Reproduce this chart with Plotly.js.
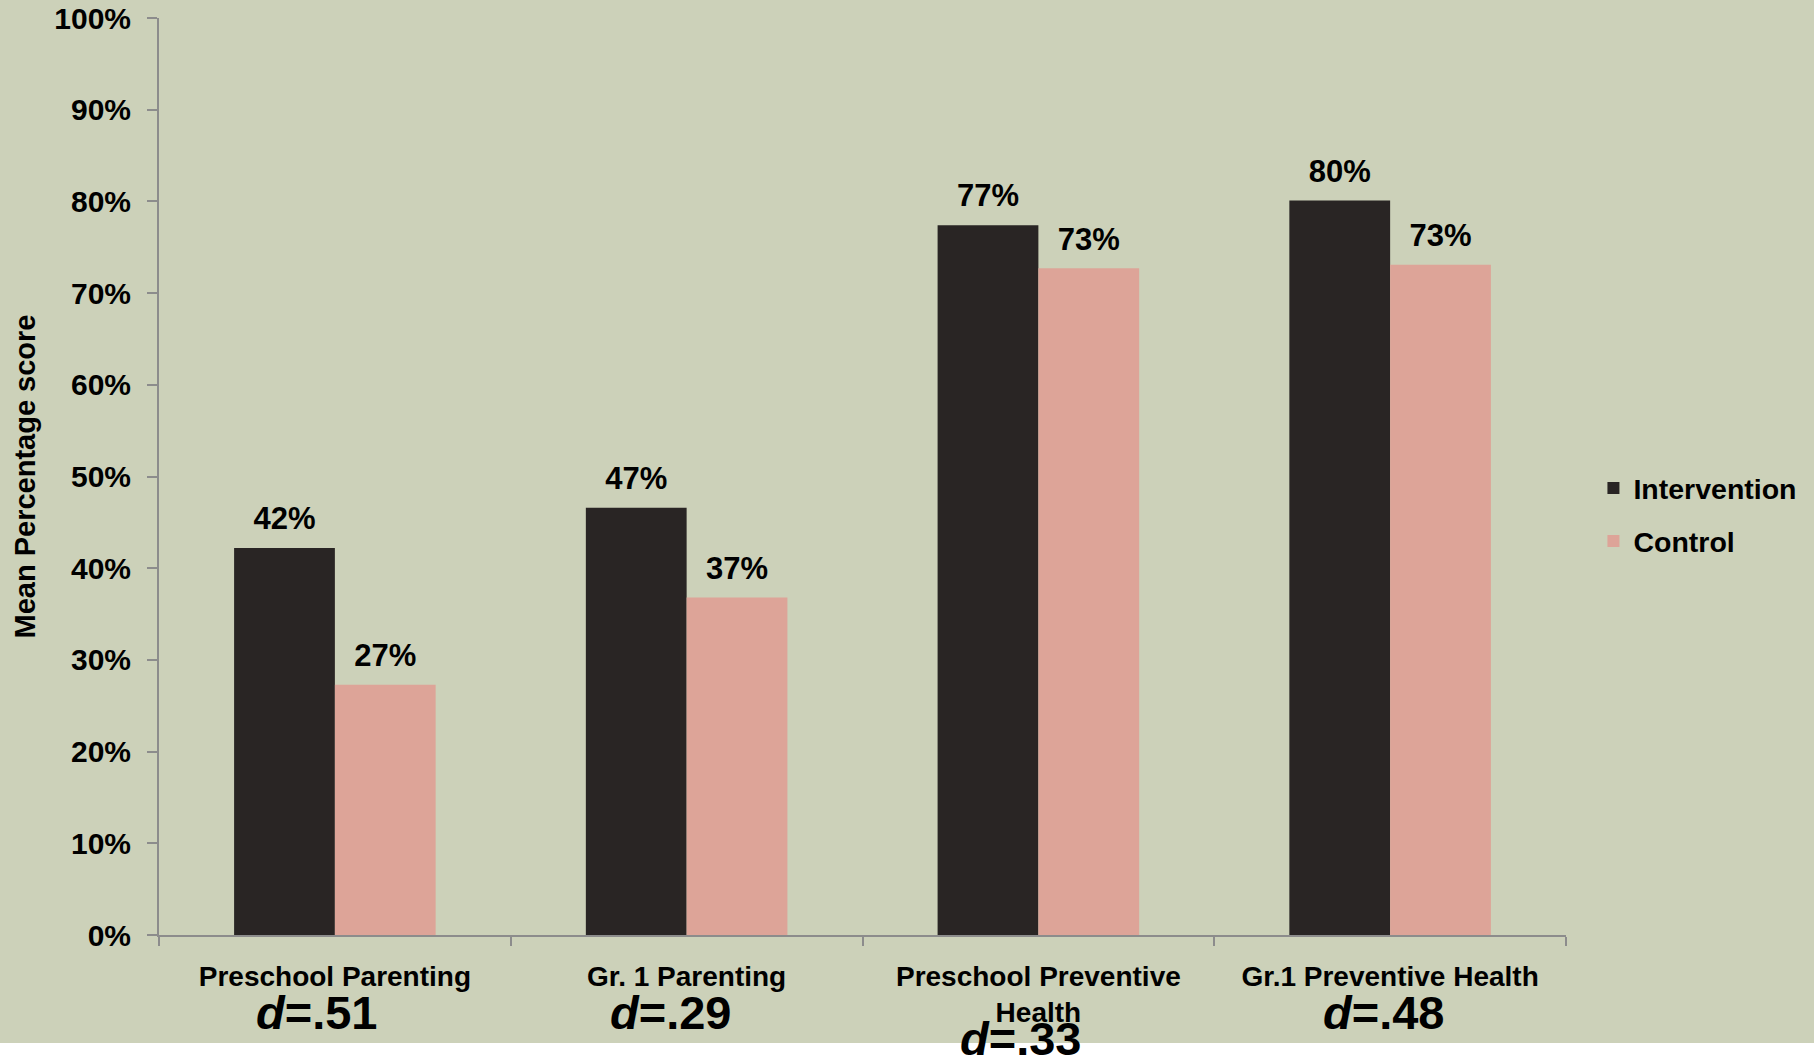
<!DOCTYPE html>
<html>
<head>
<meta charset="utf-8">
<script src="https://cdn.plot.ly/plotly-3.0.1.min.js"></script>
<style>
  html, body { margin: 0; padding: 0; background: #ffffff; }
  #chart { width: 1814px; height: 1057px; }
</style>
</head>
<body>
<div id="chart"></div>
<script>
// ---- Data ----
const categories = ["Preschool Parenting", "Gr. 1 Parenting", "Preschool Preventive<br>Health", "Gr.1 Preventive Health"];
const interventionValues = [42.2, 46.6, 77.4, 80.1];
const controlValues = [27.3, 36.8, 72.7, 73.1];
const effectSizes = [".51", ".29", ".33", ".48"];
const seriesNames = ["Intervention", "Control"];
const yTickValues = [0, 10, 20, 30, 40, 50, 60, 70, 80, 90, 100];
const yTickLabels = ["0%", "10%", "20%", "30%", "40%", "50%", "60%", "70%", "80%", "90%", "100%"];

// ---- Styles ----
const FONT = "'Liberation Sans', Arial, sans-serif";
const BG = "#CCD1B9";
const AXIS = "#8C8C8C";
const GAP = 0.427;
const seriesColors = ["#292524", "#DDA498"];

const seriesValues = [interventionValues, controlValues];

const barTraces = seriesValues.map((vals, i) => ({
  type: "bar",
  name: seriesNames[i],
  x: categories,
  y: vals,
  legendgroup: "g" + i,
  marker: { color: seriesColors[i] },
  hoverinfo: "skip"
}));

// value labels, aligned with the grouped bars
const labelTraces = seriesValues.map((vals, i) => ({
  type: "scatter",
  mode: "markers+text",
  x: categories,
  y: vals,
  texttemplate: "%{y:.0f}%",
  textposition: "top center",
  textfont: { family: FONT, size: 31, color: "#000000", weight: "bold" },
  marker: { size: 16, opacity: 0, color: seriesColors[i] },
  cliponaxis: false,
  showlegend: false,
  hoverinfo: "skip"
}));

// effect-size labels under categories
const dShift = [-18, -16, -17, -6];
const dY = [-0.084, -0.084, -0.113, -0.084];
const annotations = categories.map((c, i) => ({
  xref: "x", yref: "paper", x: c, y: dY[i],
  xshift: dShift[i], yanchor: "middle", xanchor: "center",
  text: "<i>d</i>=" + effectSizes[i], showarrow: false,
  font: { family: FONT, size: 47, color: "#000000", weight: "bold" }
}));

const layout = {
  width: 1814, height: 1057,
  paper_bgcolor: BG, plot_bgcolor: BG,
  margin: { l: 159, r: 248, t: 18, b: 122, pad: 0, autoexpand: false },
  barmode: "group", bargap: GAP, bargroupgap: 0,
  scattermode: "group", scattergap: GAP,
  font: { family: FONT, size: 28, color: "#000000", weight: "bold" },
  showlegend: true,
  legend: {
    x: 1.0195, xanchor: "left", y: 0.458, yanchor: "middle",
    bgcolor: "rgba(0,0,0,0)",
    font: { family: FONT, size: 28.5, color: "#000000", weight: "bold" },
    traceorder: "grouped", tracegroupgap: 13
  },
  xaxis: {
    type: "category",
    range: [-0.5, categories.length - 0.5],
    showline: true, linecolor: AXIS, linewidth: 2,
    ticks: "outside", ticklen: 9, tickcolor: AXIS, tickwidth: 2,
    tickson: "boundaries",
    showgrid: false, zeroline: false,
    tickfont: { family: FONT, size: 28, color: "#000000", weight: "bold" },
    ticklabelstandoff: 15
  },
  yaxis: {
    range: [0, 100],
    tickvals: yTickValues, ticktext: yTickLabels,
    showline: true, linecolor: AXIS, linewidth: 2,
    ticks: "outside", ticklen: 10, tickcolor: AXIS, tickwidth: 2,
    showgrid: false, zeroline: false,
    tickfont: { family: FONT, size: 30, color: "#000000", weight: "bold" },
    ticklabelstandoff: 10,
    title: { text: "Mean Percentage score", font: { family: FONT, size: 29, color: "#000000", weight: "bold" }, standoff: 10 }
  },
  shapes: [{
    type: "rect", xref: "paper", yref: "paper", layer: "below",
    x0: -0.2, x1: 1.3, y0: -0.1178, y1: -0.3,
    fillcolor: "#ffffff", line: { width: 0 }
  }],
  annotations: annotations
};

Plotly.newPlot("chart", barTraces.concat(labelTraces), layout, { displayModeBar: false, staticPlot: true });
</script>
</body>
</html>
